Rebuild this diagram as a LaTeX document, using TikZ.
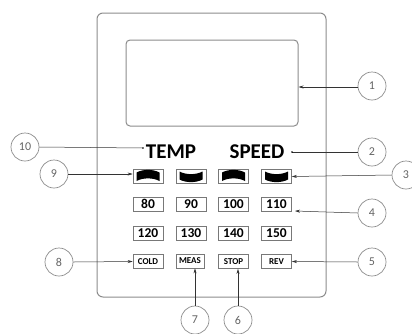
\documentclass[tikz,border=0pt]{standalone}
\usepackage{fontspec}
\setmainfont{Carlito}
\usetikzlibrary{arrows.meta}
\definecolor{panelgray}{RGB}{140,140,140}
\definecolor{boxgray}{RGB}{120,120,120}
\definecolor{numgray}{RGB}{100,100,100}
\begin{document}
\begin{tikzpicture}[x={(1pt,0)},y={(0,-1pt)},
  callout/.style={circle,draw=panelgray,line width=0.7pt,minimum size=28pt,inner sep=0pt,text=numgray,font=\fontsize{12}{12}\selectfont},
  key/.style={draw=boxgray,line width=0.7pt,minimum width=30pt,minimum height=14pt,inner sep=0pt,font=\bfseries\fontsize{13.5}{13.5}\selectfont},
  smallkey/.style={draw=boxgray,line width=0.7pt,minimum width=30pt,minimum height=14pt,inner sep=0pt,font=\bfseries\fontsize{9}{9}\selectfont},
  label/.style={font=\bfseries\fontsize{21}{21}\selectfont,inner sep=0pt},
  lead/.style={line width=0.5pt,draw=black!80},
  pointer/.style={lead,-{Stealth[length=5pt,width=3pt]}}]
\useasboundingbox (0,0) rectangle (412,333);
% panel and display
\draw[panelgray,line width=1pt,rounded corners=6pt] (97,13) rectangle (326,297);
\node[draw=panelgray,line width=1pt,rounded corners=4pt,minimum width=172pt,minimum height=86pt,inner sep=0pt] (display) at (212,83) {};
% labels
\node[label] (temp) at (171,152) {TEMP};
\node[label] (speed) at (257,152) {SPEED};
% arrow buttons
\foreach \n/\x in {b1/148,b2/191,b3/233.5,b4/276.5}{
  \node[key] (\n) at (\x,176.5) {};
}
\foreach \x in {148,233.5}{
  \fill[black] (\x-11.5,172.5) .. controls (\x-5,169) and (\x+5,169) .. (\x+11.5,172.5)
    -- (\x+11.5,181) .. controls (\x+5,177.5) and (\x-5,177.5) .. (\x-11.5,181) -- cycle;
}
\foreach \x in {191,276.5}{
  \fill[black] (\x-11.5,171.5) .. controls (\x-5,175) and (\x+5,175) .. (\x+11.5,171.5)
    -- (\x+11.5,179.5) .. controls (\x+5,183) and (\x-5,183) .. (\x-11.5,179.5) -- cycle;
}
% number keys
\node[key] (k80) at (148,204) {80};
\node[key] (k90) at (191,204) {90};
\node[key] (k100) at (233.5,204) {100};
\node[key] (k110) at (276.5,204) {110};
\node[key] (k120) at (148,233) {120};
\node[key] (k130) at (191,233) {130};
\node[key] (k140) at (233.5,233) {140};
\node[key] (k150) at (276.5,233) {150};
% function keys
\node[smallkey] (cold) at (148,261.5) {COLD};
\node[smallkey,minimum width=28pt] (meas) at (190,261) {MEAS};
\node[smallkey] (stop) at (233.5,261.5) {STOP};
\node[smallkey] (rev) at (276.5,261.5) {REV};
% callouts
\node[callout] (c1) at (372,86) {1};
\node[callout] (c2) at (372,152) {2};
\node[callout] (c3) at (406,175) {3};
\node[callout] (c4) at (372,213) {4};
\node[callout] (c5) at (372,262) {5};
\node[callout] (c6) at (238,320) {6};
\node[callout] (c7) at (195,320) {7};
\node[callout] (c8) at (59,262) {8};
\node[callout] (c9) at (54,174) {9};
\node[callout] (c10) at (25,147) {10};
% connectors
\coordinate (d1) at (display.east |- 0,87);
\draw[pointer] (c1.west |- d1) -- (d1);
\coordinate (sdot) at (292,152);
\draw[lead] (c2.west) -- (sdot);
\fill (sdot) circle (0.8pt);
\coordinate (tdot) at (143,148);
\draw[lead] (c10.east) -- (tdot);
\fill (tdot) circle (0.8pt);
\draw[pointer] (c3.west) -- (b4.east);
\draw[pointer] (c9.east) -- (c9.east -| b1.west);
\coordinate (k110c) at (295,211);
\draw[pointer] (c4.west) -- (k110c);
\draw[pointer] (c5.west) -- (rev.east);
\draw[pointer] (c6.north) -- (c6.north |- stop.south);
\draw[pointer] (c7.north) -- (c7.north |- meas.south);
\draw[pointer] (c8.east) -- (cold.west);
\end{tikzpicture}
\end{document}
